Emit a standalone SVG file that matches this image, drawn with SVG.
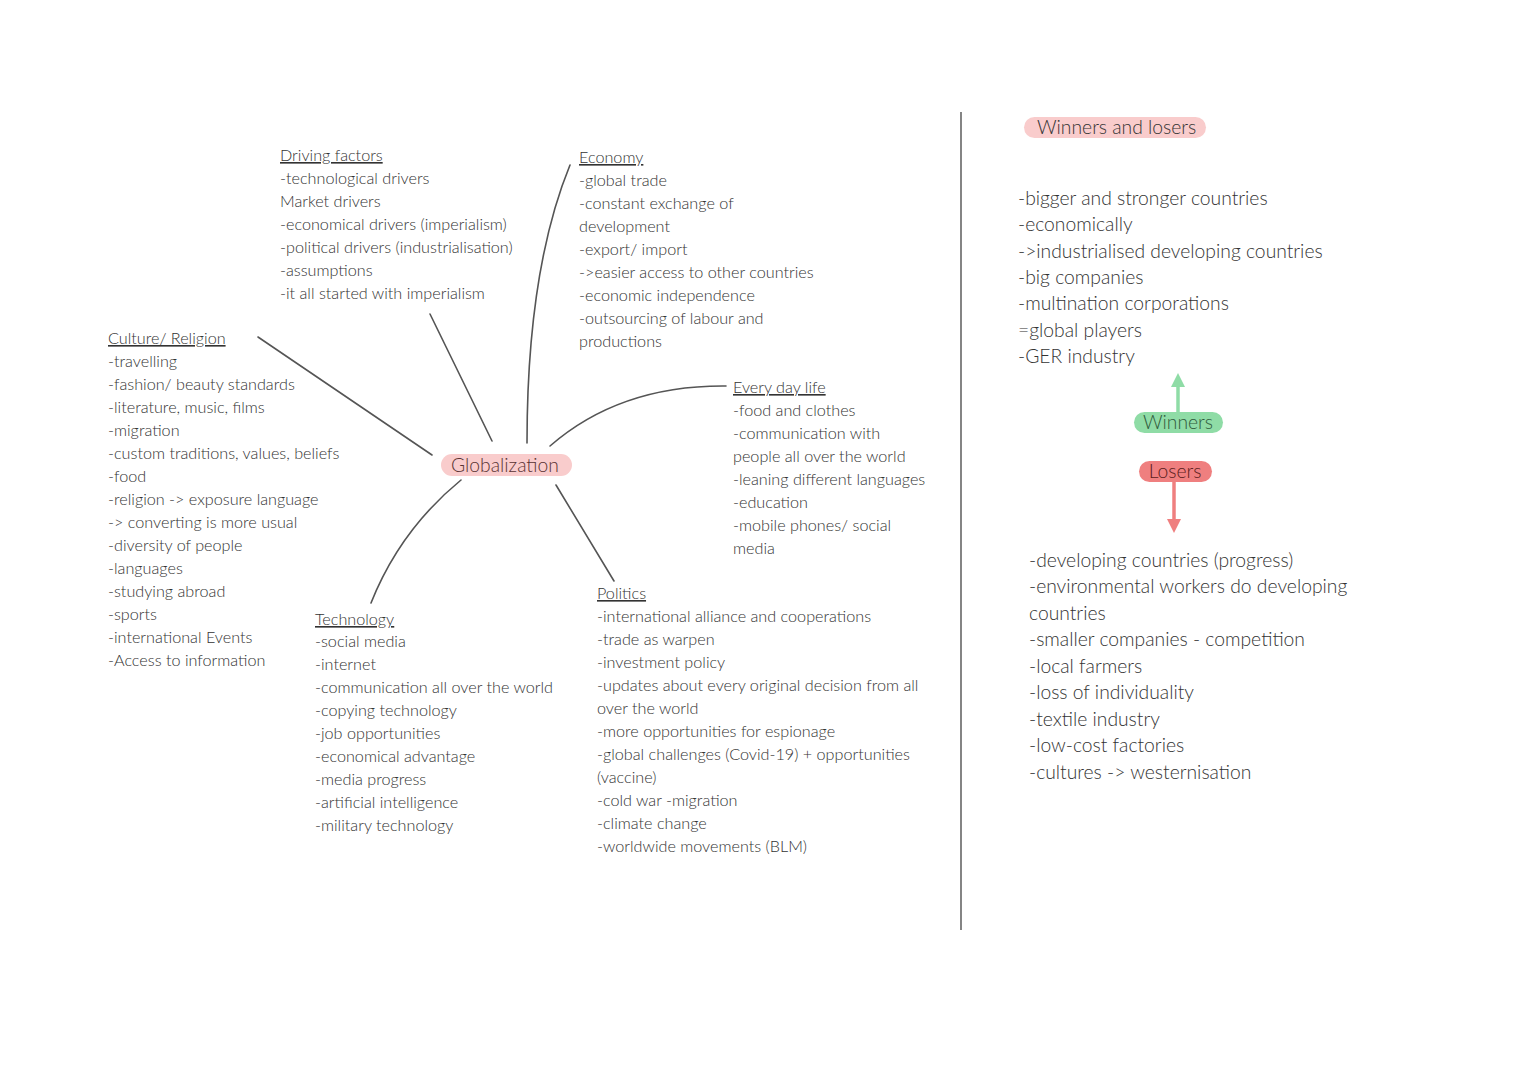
<svg xmlns="http://www.w3.org/2000/svg" width="1527" height="1080" viewBox="0 0 1527 1080">
<defs>
<style>
text{font-family:"Lato","Liberation Sans",sans-serif;font-weight:300;fill:#333}
.s{font-size:16.2px}
.b{font-size:19.3px}
.h{text-decoration:underline}
.c{fill:none;stroke:#555;stroke-width:1.6;stroke-linecap:round}
</style>
<marker id="ag" viewBox="0 0 10 10" refX="5" refY="5" markerWidth="4" markerHeight="4" orient="auto"><path d="M0,0 L10,5 L0,10 z" fill="#8fdca6"/></marker>
<marker id="ar" viewBox="0 0 10 10" refX="5" refY="5" markerWidth="4" markerHeight="4" orient="auto"><path d="M0,0 L10,5 L0,10 z" fill="#ef7f7f"/></marker>
</defs>
<rect width="1527" height="1080" fill="#fff"/>

<g id="connectors">
<path class="c" d="M430,314 L492,441"/>
<path class="c" d="M570,165 Q527,270 527,443"/>
<path class="c" d="M258,337 L432,455"/>
<path class="c" d="M550,446 Q620,385 726,386"/>
<path class="c" d="M461,480 Q400,530 371,603"/>
<path class="c" d="M556,485 L614,581"/>
<path d="M961,112 L961,930" stroke="#666" stroke-width="1.6"/>
<path d="M1178,412 L1178,380" stroke="#8fdca6" stroke-width="3.5" marker-end="url(#ag)"/>
<path d="M1174,482 L1174,526" stroke="#ef7f7f" stroke-width="3.5" marker-end="url(#ar)"/>
</g>

<g id="globalization">
<rect x="441" y="454" width="131" height="22" rx="11" fill="#f9cccc"/>
<text x="505" y="472" class="b" text-anchor="middle" style="fill:#5a3333">Globalization</text>
</g>

<g id="driving-factors" class="s">
<text x="280" y="161" class="h">Driving factors</text>
<text x="280" y="184">-technological drivers</text>
<text x="280" y="207">Market drivers</text>
<text x="280" y="230">-economical drivers (imperialism)</text>
<text x="280" y="253">-political drivers (industrialisation)</text>
<text x="280" y="276">-assumptions</text>
<text x="280" y="299">-it all started with imperialism</text>
</g>

<g id="economy" class="s">
<text x="579" y="163" class="h">Economy</text>
<text x="579" y="186">-global trade</text>
<text x="579" y="209">-constant exchange of</text>
<text x="579" y="232">development</text>
<text x="579" y="255">-export/ import</text>
<text x="579" y="278">-&gt;easier access to other countries</text>
<text x="579" y="301">-economic independence</text>
<text x="579" y="324">-outsourcing of labour and</text>
<text x="579" y="347">productions</text>
</g>

<g id="culture-religion" class="s">
<text x="108" y="344" class="h">Culture/ Religion</text>
<text x="108" y="367">-travelling</text>
<text x="108" y="390">-fashion/ beauty standards</text>
<text x="108" y="413">-literature, music, films</text>
<text x="108" y="436">-migration</text>
<text x="108" y="459">-custom traditions, values, beliefs</text>
<text x="108" y="482">-food</text>
<text x="108" y="505">-religion -&gt; exposure language</text>
<text x="108" y="528">-&gt; converting is more usual</text>
<text x="108" y="551">-diversity of people</text>
<text x="108" y="574">-languages</text>
<text x="108" y="597">-studying abroad</text>
<text x="108" y="620">-sports</text>
<text x="108" y="643">-international Events</text>
<text x="108" y="666">-Access to information</text>
</g>

<g id="every-day-life" class="s">
<text x="733" y="393" class="h">Every day life</text>
<text x="733" y="416">-food and clothes</text>
<text x="733" y="439">-communication with</text>
<text x="733" y="462">people all over the world</text>
<text x="733" y="485">-leaning different languages</text>
<text x="733" y="508">-education</text>
<text x="733" y="531">-mobile phones/ social</text>
<text x="733" y="554">media</text>
</g>

<g id="technology" class="s">
<text x="315" y="625" class="h">Technology</text>
<text x="315" y="647">-social media</text>
<text x="315" y="670">-internet</text>
<text x="315" y="693">-communication all over the world</text>
<text x="315" y="716">-copying technology</text>
<text x="315" y="739">-job opportunities</text>
<text x="315" y="762">-economical advantage</text>
<text x="315" y="785">-media progress</text>
<text x="315" y="808">-artificial intelligence</text>
<text x="315" y="831">-military technology</text>
</g>

<g id="politics" class="s">
<text x="597" y="599" class="h">Politics</text>
<text x="597" y="622">-international alliance and cooperations</text>
<text x="597" y="645">-trade as warpen</text>
<text x="597" y="668">-investment policy</text>
<text x="597" y="691">-updates about every original decision from all</text>
<text x="597" y="714">over the world</text>
<text x="597" y="737">-more opportunities for espionage</text>
<text x="597" y="760">-global challenges (Covid-19) + opportunities</text>
<text x="597" y="783">(vaccine)</text>
<text x="597" y="806">-cold war -migration</text>
<text x="597" y="829">-climate change</text>
<text x="597" y="852">-worldwide movements (BLM)</text>
</g>

<g id="winners-and-losers">
<rect x="1024" y="117" width="182" height="21" rx="10.5" fill="#f9cccc"/>
<text x="1037" y="134" class="b">Winners and losers</text>
</g>

<g id="winners-list" class="b">
<text x="1018" y="205">-bigger and stronger countries</text>
<text x="1018" y="231">-economically</text>
<text x="1018" y="258">-&gt;industrialised developing countries</text>
<text x="1018" y="284">-big companies</text>
<text x="1018" y="310">-multination corporations</text>
<text x="1018" y="337">=global players</text>
<text x="1018" y="363">-GER industry</text>
</g>

<g id="winners">
<rect x="1134" y="412" width="89" height="21" rx="10.5" fill="#8fdca6"/>
<text x="1178" y="429" class="b" text-anchor="middle" style="fill:#2f5a3c">Winners</text>
</g>

<g id="losers">
<rect x="1139" y="461" width="73" height="21" rx="10.5" fill="#ef7f7f"/>
<text x="1175" y="478" class="b" text-anchor="middle" style="fill:#5a2020">Losers</text>
</g>

<g id="losers-list" class="b">
<text x="1029" y="567">-developing countries (progress)</text>
<text x="1029" y="593">-environmental workers do developing</text>
<text x="1029" y="620">countries</text>
<text x="1029" y="646">-smaller companies - competition</text>
<text x="1029" y="673">-local farmers</text>
<text x="1029" y="699">-loss of individuality</text>
<text x="1029" y="726">-textile industry</text>
<text x="1029" y="752">-low-cost factories</text>
<text x="1029" y="779">-cultures -&gt; westernisation</text>
</g>
</svg>
